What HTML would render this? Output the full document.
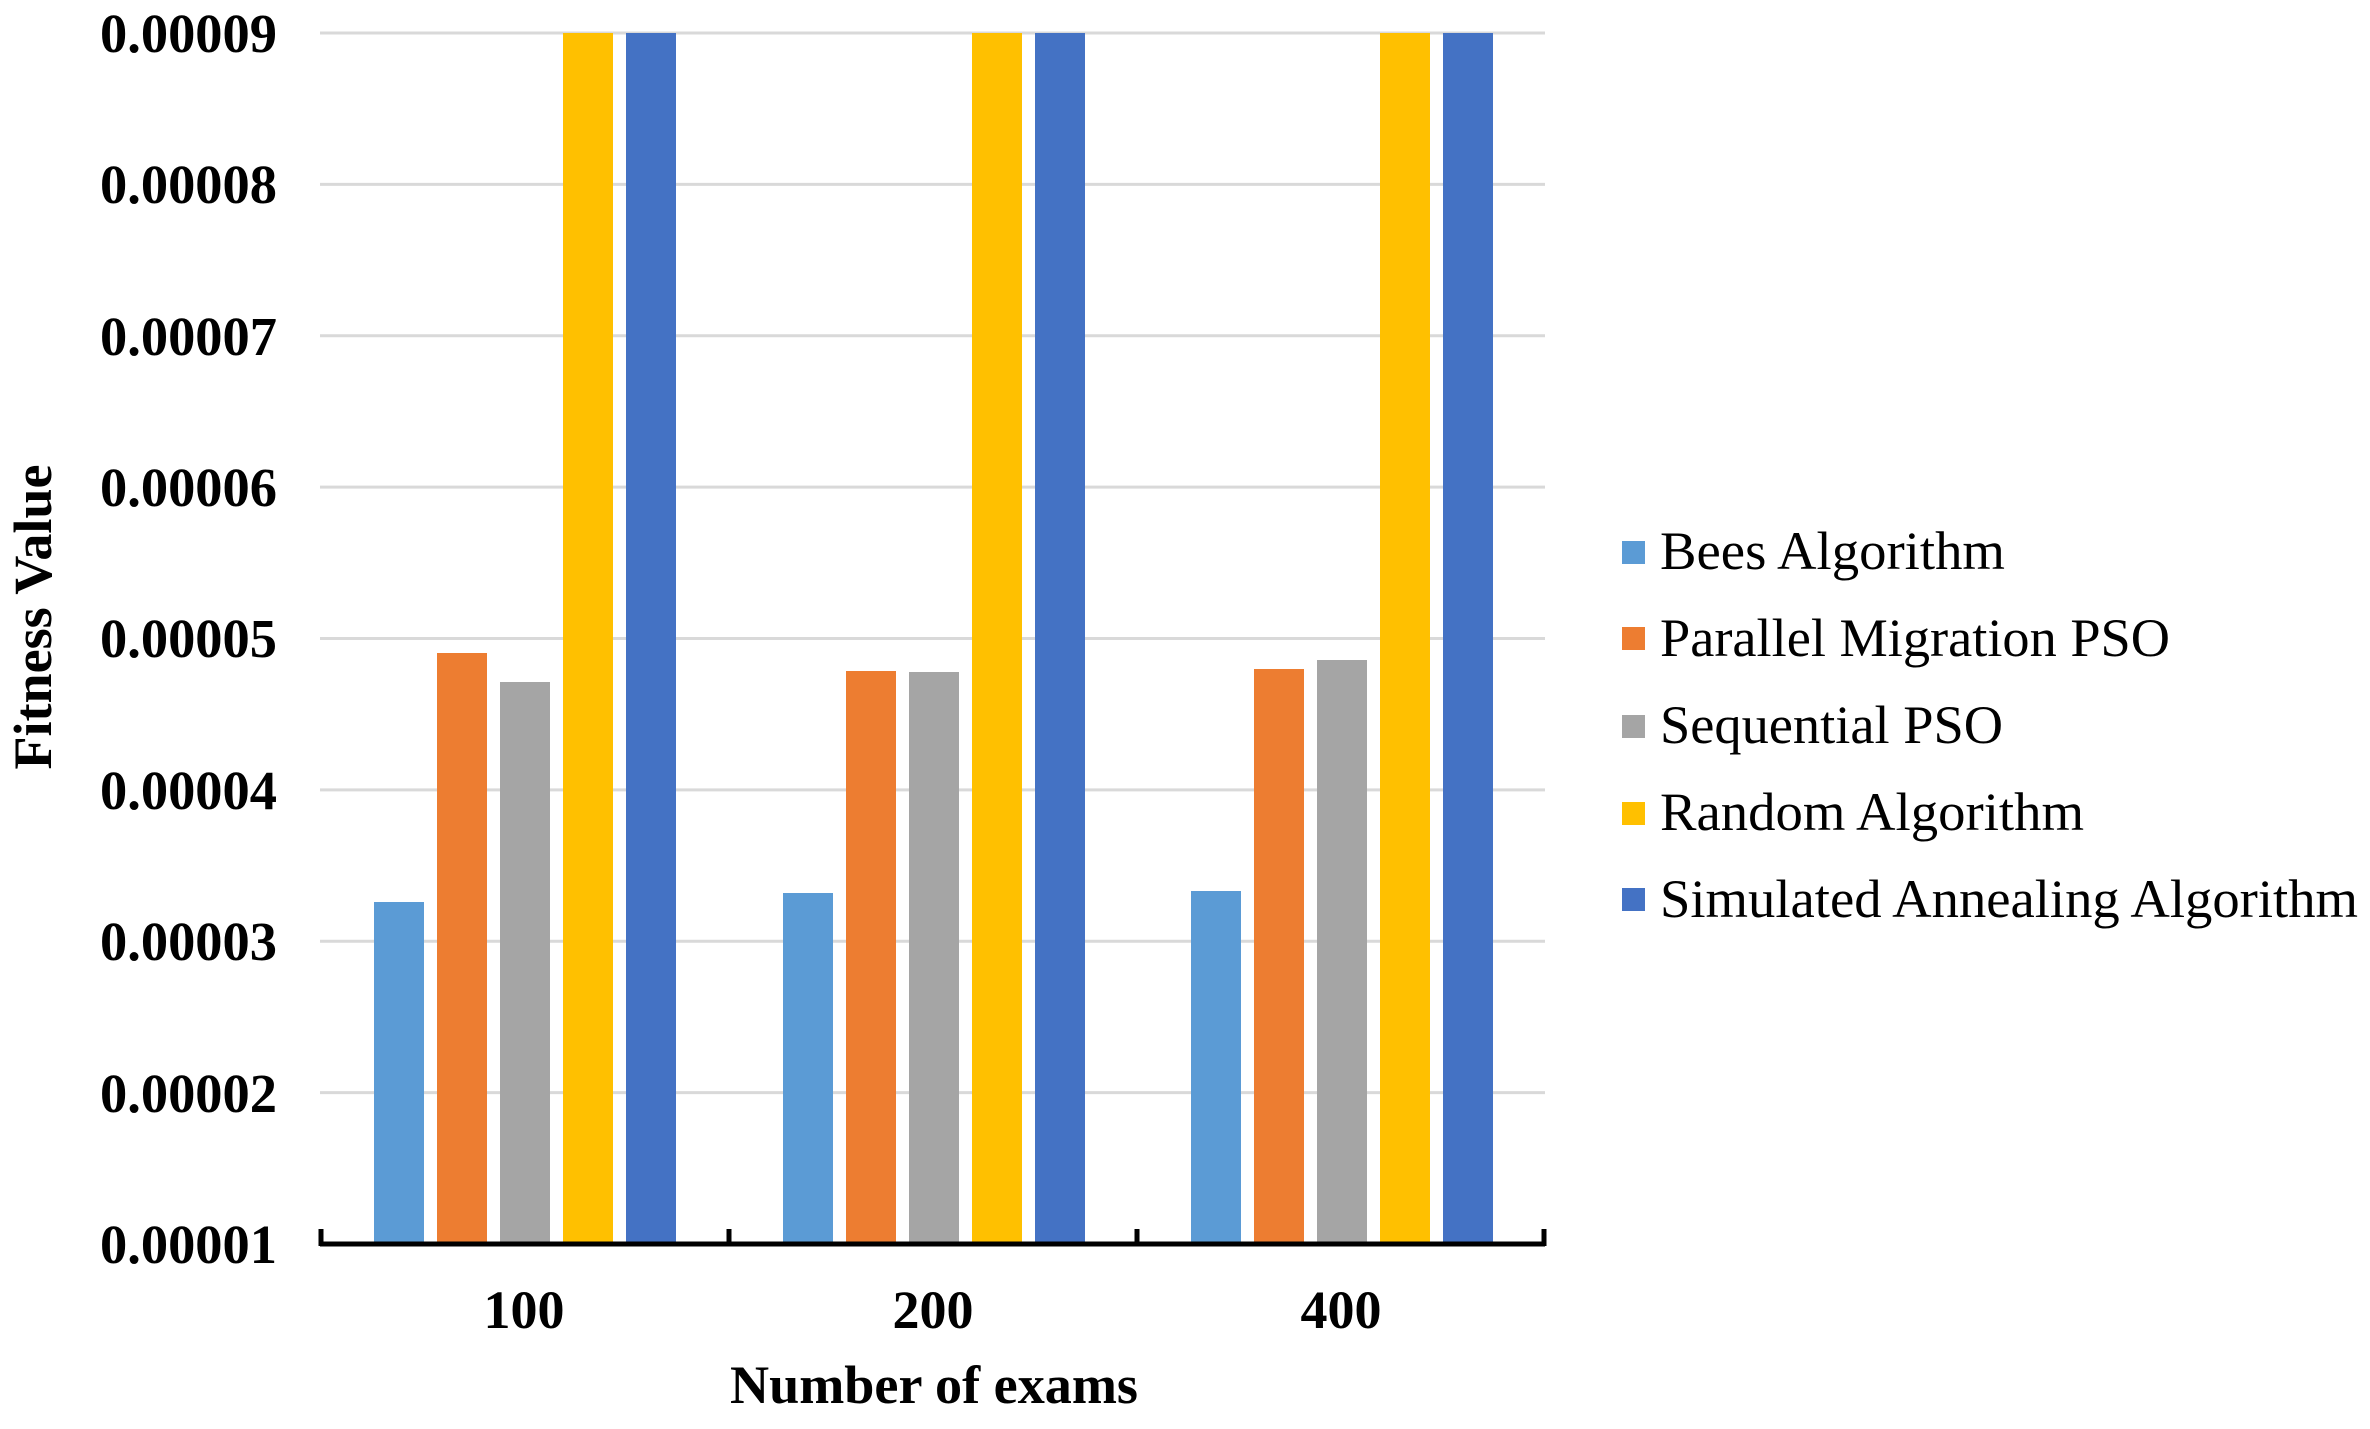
<!DOCTYPE html>
<html><head><meta charset="utf-8"><style>html,body{margin:0;padding:0;background:#fff}</style></head>
<body>
<svg width="2370" height="1424" viewBox="0 0 2370 1424" xmlns="http://www.w3.org/2000/svg" font-family="Liberation Serif, serif">
<rect width="2370" height="1424" fill="#fff"/>
<g stroke="#d9d9d9" stroke-width="3">
<line x1="320" x2="1545" y1="33" y2="33"/>
<line x1="320" x2="1545" y1="184.4" y2="184.4"/>
<line x1="320" x2="1545" y1="335.8" y2="335.8"/>
<line x1="320" x2="1545" y1="487.1" y2="487.1"/>
<line x1="320" x2="1545" y1="638.5" y2="638.5"/>
<line x1="320" x2="1545" y1="789.9" y2="789.9"/>
<line x1="320" x2="1545" y1="941.3" y2="941.3"/>
<line x1="320" x2="1545" y1="1092.6" y2="1092.6"/>
</g>
<g font-weight="bold" font-size="55" text-anchor="end" fill="#000">
<text x="277" y="52" textLength="177" lengthAdjust="spacingAndGlyphs">0.00009</text>
<text x="277" y="203" textLength="177" lengthAdjust="spacingAndGlyphs">0.00008</text>
<text x="277" y="355" textLength="177" lengthAdjust="spacingAndGlyphs">0.00007</text>
<text x="277" y="506" textLength="177" lengthAdjust="spacingAndGlyphs">0.00006</text>
<text x="277" y="657" textLength="177" lengthAdjust="spacingAndGlyphs">0.00005</text>
<text x="277" y="809" textLength="177" lengthAdjust="spacingAndGlyphs">0.00004</text>
<text x="277" y="960" textLength="177" lengthAdjust="spacingAndGlyphs">0.00003</text>
<text x="277" y="1112" textLength="177" lengthAdjust="spacingAndGlyphs">0.00002</text>
<text x="277" y="1263" textLength="177" lengthAdjust="spacingAndGlyphs">0.00001</text>
</g>
<g>
<rect x="374" y="902" width="50" height="342" fill="#5B9BD5"/>
<rect x="437" y="653" width="50" height="591" fill="#ED7D31"/>
<rect x="500" y="682" width="50" height="562" fill="#A5A5A5"/>
<rect x="563" y="33" width="50" height="1211" fill="#FFC000"/>
<rect x="626" y="33" width="50" height="1211" fill="#4472C4"/>
<rect x="783" y="893" width="50" height="351" fill="#5B9BD5"/>
<rect x="846" y="671" width="50" height="573" fill="#ED7D31"/>
<rect x="909" y="672" width="50" height="572" fill="#A5A5A5"/>
<rect x="972" y="33" width="50" height="1211" fill="#FFC000"/>
<rect x="1035" y="33" width="50" height="1211" fill="#4472C4"/>
<rect x="1191" y="891" width="50" height="353" fill="#5B9BD5"/>
<rect x="1254" y="669" width="50" height="575" fill="#ED7D31"/>
<rect x="1317" y="660" width="50" height="584" fill="#A5A5A5"/>
<rect x="1380" y="33" width="50" height="1211" fill="#FFC000"/>
<rect x="1443" y="33" width="50" height="1211" fill="#4472C4"/>
</g>
<g stroke="#000" stroke-width="5">
<line x1="320" x2="1545" y1="1244" y2="1244"/>
<line x1="321" x2="321" y1="1229" y2="1246"/>
<line x1="729" x2="729" y1="1229" y2="1246"/>
<line x1="1137" x2="1137" y1="1229" y2="1246"/>
<line x1="1544" x2="1544" y1="1229" y2="1246"/>
</g>
<g font-weight="bold" font-size="54" text-anchor="middle" fill="#000">
<text x="524" y="1328">100</text>
<text x="933" y="1328">200</text>
<text x="1341" y="1328">400</text>
<text x="934" y="1403" textLength="408" lengthAdjust="spacingAndGlyphs">Number of exams</text>
<text transform="translate(51,617) rotate(-90)" textLength="305" lengthAdjust="spacingAndGlyphs">Fitness Value</text>
</g>
<g font-size="54" fill="#000">
<rect x="1622" y="541" width="23" height="23" fill="#5B9BD5"/>
<text x="1660" y="569" textLength="345" lengthAdjust="spacingAndGlyphs">Bees Algorithm</text>
<rect x="1622" y="627" width="23" height="23" fill="#ED7D31"/>
<text x="1660" y="656" textLength="510" lengthAdjust="spacingAndGlyphs">Parallel Migration PSO</text>
<rect x="1622" y="715" width="23" height="23" fill="#A5A5A5"/>
<text x="1660" y="743" textLength="343" lengthAdjust="spacingAndGlyphs">Sequential PSO</text>
<rect x="1622" y="802" width="23" height="23" fill="#FFC000"/>
<text x="1660" y="830" textLength="424" lengthAdjust="spacingAndGlyphs">Random Algorithm</text>
<rect x="1622" y="888" width="23" height="23" fill="#4472C4"/>
<text x="1660" y="917" textLength="698" lengthAdjust="spacingAndGlyphs">Simulated Annealing Algorithm</text>
</g>
</svg>
</body></html>
